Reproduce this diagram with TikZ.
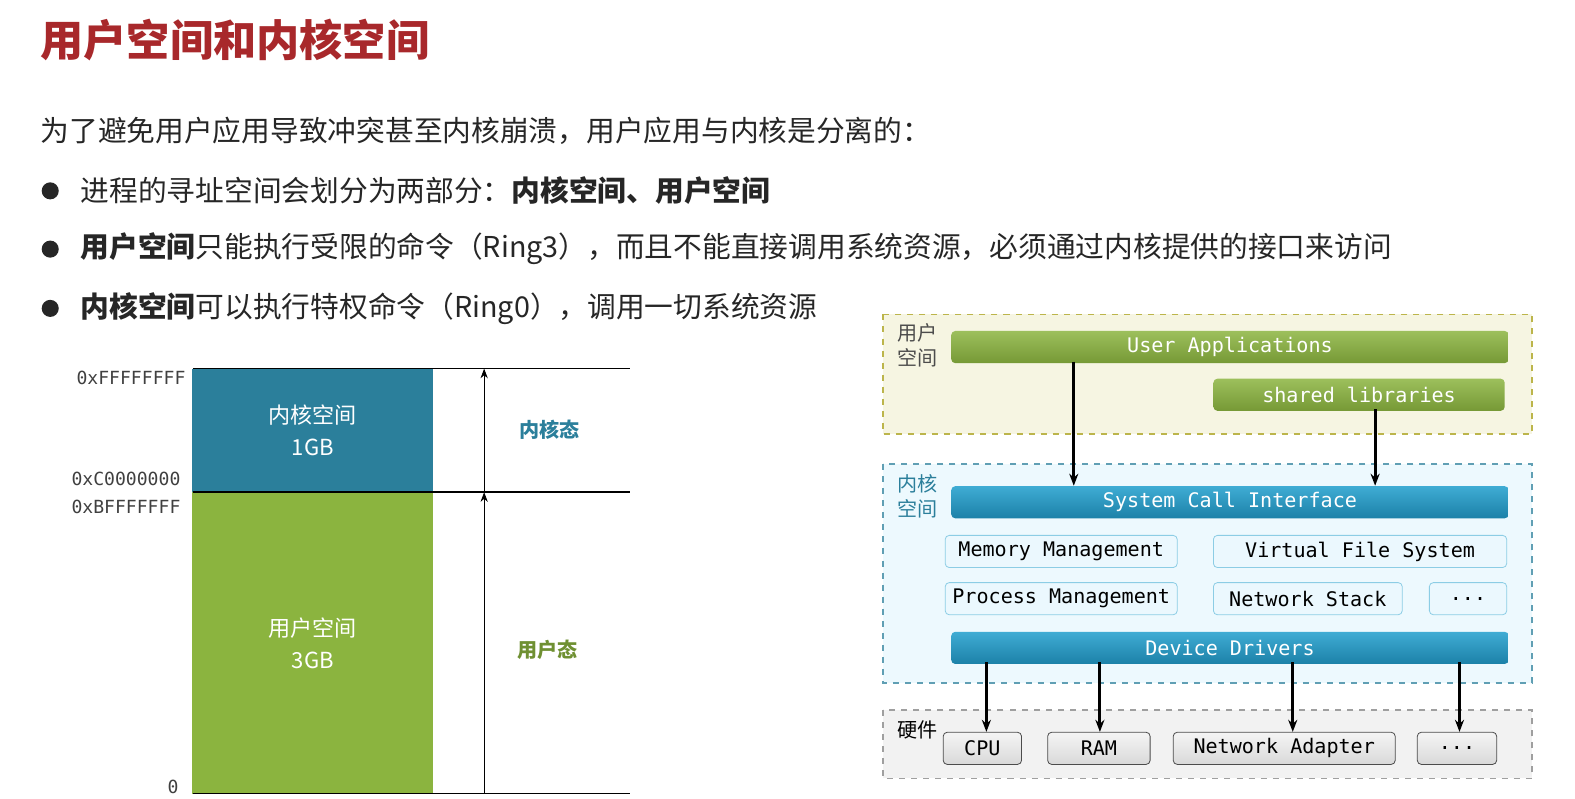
\documentclass[tikz,border=0pt]{standalone}
\usepackage{fontspec}
\setmainfont{Noto Sans CJK SC}
\setmonofont{DejaVu Sans Mono}
\usetikzlibrary{arrows.meta, positioning}
\definecolor{titlered}{HTML}{A8282B}
\definecolor{kblue}{HTML}{2B7F9B}
\definecolor{ugreen}{HTML}{8BB43F}
\definecolor{bartop}{HTML}{3FACD4}
\definecolor{barbot}{HTML}{1C81A8}
\tikzset{
    greenbar/.style={rectangle, rounded corners=2pt, top color=ugreen!85!white, bottom color=ugreen!85!black, draw=none, text=white, font=\ttfamily\fontsize{10}{11}\selectfont, inner sep=0pt},
    bluebar/.style={rectangle, rounded corners=2pt, top color=bartop, bottom color=barbot, draw=none, text=white, font=\ttfamily\fontsize{10}{11}\selectfont, inner sep=0pt},
    kbox/.style={rectangle, rounded corners=2pt, draw=bartop!60, fill=cyan!8, font=\ttfamily\fontsize{10}{11}\selectfont, inner sep=0pt},
    hwbox/.style={rectangle, rounded corners=2pt, draw=black!70, top color=gray!8, bottom color=gray!30, font=\ttfamily\fontsize{10}{11}\selectfont, inner sep=0pt},
    layerbox/.style={draw, dashed, thick},
    arrow/.style={-{Stealth[length=6pt]}, line width=1.5pt},
    bodytext/.style={anchor=west, font=\fontsize{14.3}{16}\selectfont, inner sep=0pt, text=black!85},
    addr/.style={anchor=east, font=\ttfamily\fontsize{9}{10}\selectfont, text=black!75, inner sep=0pt},
}
\begin{document}
\begin{tikzpicture}[x=0.5pt, y=-0.5pt]
    \useasboundingbox (0,0) rectangle (1568,794.5);

    % title and bullets
    \node[bodytext, font=\fontsize{21.5}{24}\bfseries\selectfont, text=titlered] (title) at (40,40) {用户空间和内核空间};
    \node[bodytext] (intro) at (40,130) {为了避免用户应用导致冲突甚至内核崩溃，用户应用与内核是分离的：};
    \foreach \y/\name in {190/b1, 248/b2, 307/b3}
        \node[circle, fill=black!85, inner sep=0pt, minimum size=8.5pt] (\name) at (50,\y) {};
    \node[bodytext] (t1) at (80,190) {进程的寻址空间会划分为两部分：\textbf{内核空间、用户空间}};
    \node[bodytext] (t2) at (80,248) {\textbf{用户空间}只能执行受限的命令（Ring3），而且不能直接调用系统资源，必须通过内核提供的接口来访问};
    \node[bodytext] (t3) at (80,307) {\textbf{内核空间}可以执行特权命令（Ring0），调用一切系统资源};

    % address space
    \node[fill=kblue, minimum width=120pt, minimum height=61.5pt, inner sep=0pt, align=center, text=white, font=\fontsize{11}{16}\selectfont] (kspace) at (311.5,428.5) {内核空间\\1GB};
    \node[fill=ugreen, minimum width=120pt, minimum height=150.5pt, inner sep=0pt, align=center, text=white, font=\fontsize{11}{16}\selectfont] (uspace) at (311.5,640) {用户空间\\3GB};
    \coordinate (top) at (482,367);
    \coordinate (mid) at (482,490);
    \coordinate (bot) at (482,790);
    \draw[thick] (192,367) -- (627,367);
    \draw[thick] (192,490) -- (627,490);
    \draw[thick] (192,790) -- (627,790);
    \draw[-Stealth] (mid) -- (top);
    \draw[-Stealth] (bot) -- (mid);
    \node[font=\fontsize{10}{12}\bfseries\selectfont, text=kblue] (kmode) at (547,428) {内核态};
    \node[font=\fontsize{10}{12}\bfseries\selectfont, text=ugreen!80!black] (umode) at (545,647) {用户态};
    \node[addr] (a1) at (185,376) {0xFFFFFFFF};
    \node[addr] (a2) at (180,477) {0xC0000000};
    \node[addr] (a3) at (180,505) {0xBFFFFFFF};
    \node[addr] (a4) at (178,783) {0};

    % layered architecture
    \draw[layerbox, draw=olive!60, fill=olive!8] (879,313) rectangle (1525,432);
    \draw[layerbox, draw=kblue!75, fill=cyan!7] (879,462) rectangle (1525,680);
    \draw[layerbox, draw=gray!75, fill=gray!10] (879,707) rectangle (1525,775);
    \node[align=left, font=\fontsize{10}{12.5}\selectfont, text=black!70] (ulbl) at (913,344) {用户\\空间};
    \node[align=left, font=\fontsize{10}{12.5}\selectfont, text=kblue] (klbl) at (913,494) {内核\\空间};
    \node[font=\fontsize{10}{12}\selectfont] (hlbl) at (913,727) {硬件};

    \node[greenbar, minimum width=277.5pt, minimum height=16pt] (app) at (1224.5,345.5) {User Applications};
    \node[greenbar, minimum width=145pt, minimum height=16pt] (lib) at (1353,393) {shared libraries};
    \node[bluebar, minimum width=277.5pt, minimum height=16pt] (sci) at (1224.5,500) {System Call Interface};
    \node[kbox, minimum width=115.5pt, minimum height=16pt] (mem) at (1056.5,549) {Memory Management};
    \node[kbox, minimum width=146pt, minimum height=16pt] (vfs) at (1354,549) {Virtual File System};
    \node[kbox, minimum width=115.5pt, minimum height=16pt] (proc) at (1056.5,596) {Process Management};
    \node[kbox, minimum width=94pt, minimum height=16pt] (net) at (1302,596) {Network Stack};
    \node[kbox, minimum width=38.5pt, minimum height=16pt] (kdots) at (1461.5,596) {.{}.{}.};
    \node[bluebar, minimum width=277.5pt, minimum height=16pt] (drv) at (1224.5,645) {Device Drivers};
    \node[hwbox, minimum width=39pt, minimum height=16pt] (cpu) at (978,745) {CPU};
    \node[hwbox, minimum width=51pt, minimum height=16pt] (ram) at (1094,745) {RAM};
    \node[hwbox, minimum width=110.5pt, minimum height=16pt] (nic) at (1278.5,745) {Network Adapter};
    \node[hwbox, minimum width=39.5pt, minimum height=16pt] (hdots) at (1450.5,745) {.{}.{}.};

    \draw[arrow] (app.south -| 1069,0) ++(0,-2) -- (sci.north -| 1069,0);
    \draw[arrow] (lib.south -| 1369,0) ++(0,-2) -- (sci.north -| 1369,0);
    \foreach \x/\n in {982/cpu, 1095/ram, 1287/nic, 1453/hdots}
        \draw[arrow] (drv.south -| \x,0) ++(0,-2) -- (\n.north -| \x,0);
\end{tikzpicture}
\end{document}
